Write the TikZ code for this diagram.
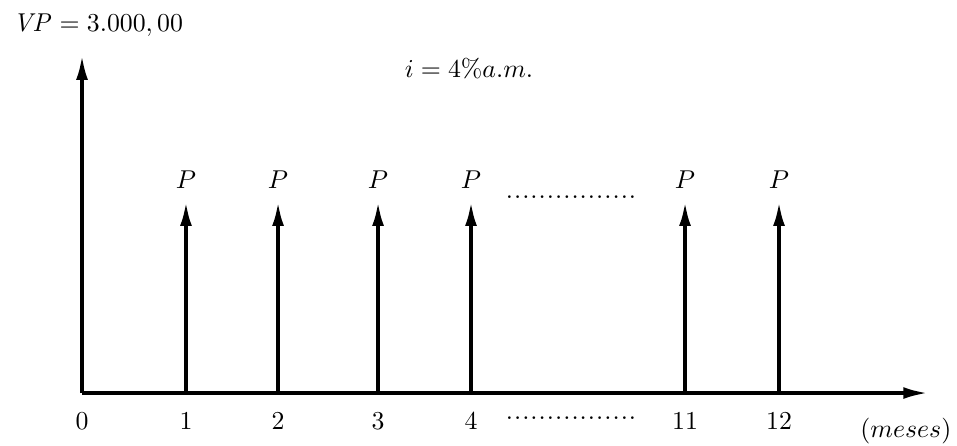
\documentclass[tikz,border=0pt]{standalone}
\usepackage{tikz}
\usetikzlibrary{arrows.meta}

\newcommand{\pontilhado}{\foreach \k in {1,...,16}{.\kern0.4pt}\unskip}

\begin{document}
\begin{tikzpicture}[
      eixo/.style={-{Latex[length=9.5pt,width=4.6pt]},line width=1.35pt},
      seta/.style={-{Latex[length=9.5pt,width=4.6pt]},line width=1.45pt},
      rot/.style={anchor=base,inner sep=0pt}]
    \useasboundingbox (-1.117,-0.708) rectangle (11.917,5.353);

    % eixos
    \coordinate (o) at (0,0);
    \coordinate (xfim) at (11.52,0);
    \coordinate (yfim) at (0,4.60);
    \draw[eixo] (o) -- (xfim);
    \draw[eixo] (o) -- (yfim);

    \node[rot,anchor=base west] (vp) at (-0.944,4.93) {$\mathit{VP} = 3.000,00$};
    \node[rot] (taxa) at (5.27,4.30) {$i = 4\% a.m.$};
    \node[rot] (meses) at (11.22,-0.606) {$(meses)$};

    % parcelas
    \coordinate (t1) at (1.416,0);  \coordinate (a1) at (1.416,2.61);
    \coordinate (t2) at (2.670,0);  \coordinate (a2) at (2.670,2.61);
    \coordinate (t3) at (4.032,0);  \coordinate (a3) at (4.032,2.61);
    \coordinate (t4) at (5.298,0);  \coordinate (a4) at (5.298,2.61);
    \coordinate (t11) at (8.213,0); \coordinate (a11) at (8.213,2.61);
    \coordinate (t12) at (9.493,0); \coordinate (a12) at (9.493,2.61);

    \draw[seta] (t1) -- (a1);
    \draw[seta] (t2) -- (a2);
    \draw[seta] (t3) -- (a3);
    \draw[seta] (t4) -- (a4);
    \draw[seta] (t11) -- (a11);
    \draw[seta] (t12) -- (a12);

    \node[rot] (p1) at (1.416,2.78) {$P$};
    \node[rot] (p2) at (2.670,2.78) {$P$};
    \node[rot] (p3) at (4.032,2.78) {$P$};
    \node[rot] (p4) at (5.298,2.78) {$P$};
    \node[rot] (p11) at (8.213,2.78) {$P$};
    \node[rot] (p12) at (9.493,2.78) {$P$};

    % datas
    \node[rot] (n0) at (0,-0.49) {$0$};
    \node[rot] (n1) at (1.416,-0.49) {$1$};
    \node[rot] (n2) at (2.670,-0.49) {$2$};
    \node[rot] (n3) at (4.032,-0.49) {$3$};
    \node[rot] (n4) at (5.298,-0.49) {$4$};
    \node[rot] (n11) at (8.213,-0.49) {$11$};
    \node[rot] (n12) at (9.493,-0.49) {$12$};

    \node[rot] (pontosA) at (6.667,2.645) {\pontilhado};
    \node[rot] (pontosB) at (6.667,-0.36) {\pontilhado};
  \end{tikzpicture}
\end{document}
